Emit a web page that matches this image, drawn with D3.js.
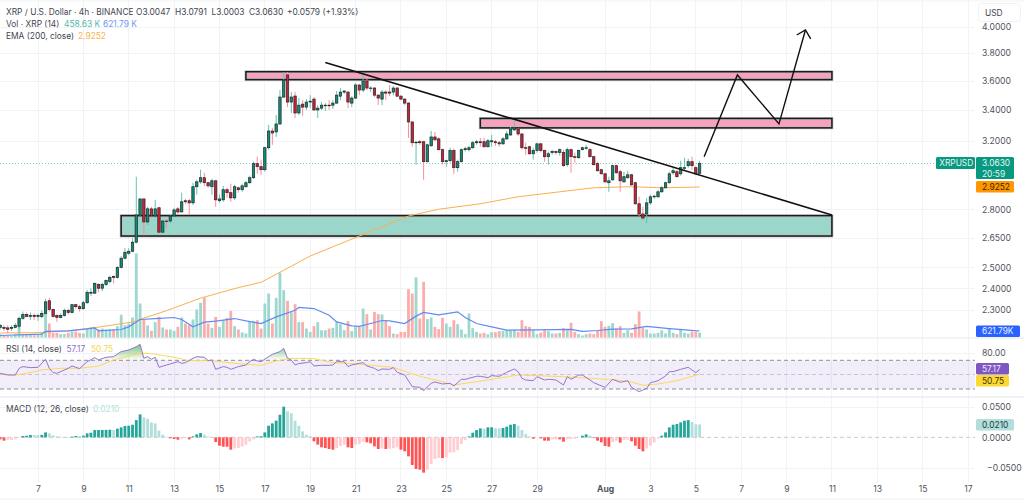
<!DOCTYPE html>
<html>
<head>
<meta charset="utf-8">
<script src="https://d3js.org/d3.v7.min.js"></script>
<style>
html, body { margin: 0; padding: 0; background: #fff; }
svg { display: block; }
text { font-family: Inter, "Noto Sans", sans-serif; font-size: 8.4px; fill: #434651; }
.axis text { font-size: 8.6px; fill: #50535e; }
.axis path, .axis line { display: none; }
</style>
</head>
<body>
<svg id="chart" width="1024" height="501"></svg>
<script>
// 4h candles, first bar is Jul 5 08:00, last is Aug 5 04:00
var opens = [2.223,2.223,2.221,2.219,2.223,2.228,2.263,2.280,2.271,2.276,2.271,2.271,2.285,2.342,2.302,2.276,2.267,2.276,2.298,2.289,2.324,2.315,2.306,2.333,2.377,2.377,2.418,2.400,2.418,2.432,2.456,2.451,2.500,2.545,2.570,2.580,2.626,2.770,2.858,2.732,2.803,2.764,2.809,2.678,2.737,2.737,2.764,2.803,2.786,2.848,2.848,2.836,2.927,2.955,2.979,2.950,2.927,2.961,2.848,2.853,2.910,2.893,2.864,2.921,2.910,2.927,2.950,2.979,3.062,3.044,3.026,3.159,3.264,3.258,3.309,3.488,3.642,3.454,3.495,3.381,3.440,3.420,3.454,3.474,3.401,3.413,3.430,3.433,3.433,3.447,3.494,3.522,3.522,3.447,3.481,3.571,3.536,3.599,3.547,3.550,3.501,3.474,3.522,3.522,3.522,3.550,3.494,3.474,3.447,3.322,3.190,3.196,3.196,3.074,3.171,3.226,3.214,3.147,3.074,3.080,3.141,3.038,3.074,3.147,3.147,3.159,3.190,3.196,3.196,3.165,3.196,3.196,3.190,3.183,3.214,3.239,3.271,3.277,3.245,3.159,3.165,3.122,3.141,3.183,3.141,3.104,3.129,3.135,3.129,3.129,3.056,3.147,3.104,3.098,3.147,3.156,3.147,3.104,3.062,3.026,3.002,2.950,2.967,3.050,3.014,2.955,2.979,2.996,2.950,2.831,2.775,2.775,2.836,2.870,2.870,2.898,2.921,2.950,3.008,3.014,3.002,3.035,3.050,3.074,3.038,3.0047];
var highs = [2.238,2.232,2.232,2.232,2.243,2.271,2.293,2.289,2.289,2.285,2.285,2.298,2.351,2.355,2.306,2.280,2.285,2.306,2.306,2.328,2.328,2.324,2.342,2.392,2.400,2.427,2.423,2.427,2.441,2.460,2.460,2.505,2.555,2.596,2.596,2.647,2.985,2.858,2.858,2.814,2.814,2.853,2.814,2.742,2.748,2.775,2.809,2.814,2.893,2.858,2.858,2.950,2.967,3.026,3.008,2.955,2.973,2.967,2.882,2.932,2.921,2.944,2.938,2.927,2.944,2.961,2.991,3.074,3.104,3.086,3.165,3.303,3.284,3.368,3.536,3.663,3.663,3.522,3.522,3.481,3.467,3.474,3.501,3.488,3.433,3.454,3.447,3.467,3.467,3.529,3.550,3.536,3.529,3.494,3.585,3.578,3.649,3.620,3.564,3.557,3.508,3.536,3.536,3.571,3.564,3.557,3.501,3.481,3.454,3.328,3.202,3.208,3.202,3.183,3.264,3.258,3.226,3.153,3.086,3.159,3.153,3.086,3.153,3.165,3.171,3.202,3.208,3.220,3.220,3.214,3.239,3.208,3.202,3.226,3.264,3.290,3.328,3.284,3.251,3.190,3.171,3.159,3.190,3.190,3.147,3.135,3.147,3.141,3.153,3.147,3.159,3.153,3.129,3.147,3.165,3.177,3.159,3.110,3.074,3.032,3.008,2.985,3.056,3.056,3.026,3.014,3.020,3.002,2.955,2.870,2.814,2.864,2.882,2.882,2.910,2.932,2.955,3.014,3.038,3.026,3.080,3.098,3.092,3.104,3.050,3.0791];
var lows = [2.215,2.208,2.199,2.208,2.219,2.215,2.256,2.267,2.256,2.256,2.252,2.263,2.280,2.293,2.267,2.247,2.263,2.271,2.280,2.285,2.306,2.293,2.302,2.328,2.364,2.373,2.381,2.386,2.410,2.423,2.423,2.446,2.495,2.540,2.560,2.575,2.621,2.764,2.662,2.716,2.753,2.753,2.673,2.675,2.700,2.726,2.758,2.775,2.786,2.831,2.770,2.825,2.882,2.944,2.932,2.921,2.882,2.814,2.836,2.842,2.864,2.842,2.853,2.893,2.898,2.921,2.944,2.973,3.002,2.996,3.014,3.147,3.177,3.226,3.303,3.481,3.420,3.381,3.348,3.368,3.362,3.401,3.413,3.394,3.348,3.401,3.394,3.401,3.407,3.440,3.467,3.508,3.413,3.420,3.474,3.501,3.522,3.536,3.522,3.488,3.433,3.433,3.467,3.494,3.501,3.488,3.467,3.433,3.220,3.165,3.056,3.177,2.967,3.068,3.165,3.202,3.141,3.056,3.044,3.068,3.002,3.014,3.068,3.135,3.135,3.153,3.177,3.165,3.159,3.159,3.165,3.171,3.165,3.177,3.208,3.232,3.264,3.232,3.147,3.116,3.116,3.086,3.129,3.129,3.074,3.056,3.116,3.116,3.110,3.044,3.044,3.008,3.068,3.092,3.141,3.147,3.098,3.050,3.014,2.996,2.950,2.898,2.961,3.002,2.898,2.950,2.973,2.932,2.825,2.764,2.742,2.726,2.825,2.858,2.864,2.893,2.915,2.944,2.996,2.979,2.991,3.020,3.038,3.026,2.996,3.0003];
var closes = [2.232,2.219,2.215,2.223,2.232,2.263,2.280,2.271,2.276,2.271,2.276,2.285,2.337,2.302,2.271,2.267,2.276,2.298,2.289,2.324,2.315,2.306,2.333,2.381,2.381,2.423,2.400,2.418,2.437,2.451,2.451,2.500,2.545,2.575,2.580,2.626,2.770,2.858,2.732,2.803,2.764,2.803,2.678,2.737,2.734,2.764,2.797,2.786,2.842,2.842,2.836,2.927,2.955,2.979,2.950,2.932,2.961,2.853,2.858,2.910,2.893,2.864,2.927,2.910,2.932,2.950,2.979,3.062,3.044,3.026,3.159,3.264,3.251,3.309,3.488,3.606,3.454,3.488,3.381,3.433,3.420,3.454,3.460,3.401,3.413,3.433,3.433,3.430,3.447,3.501,3.522,3.529,3.454,3.481,3.571,3.536,3.599,3.550,3.550,3.501,3.481,3.522,3.515,3.515,3.550,3.494,3.474,3.447,3.322,3.190,3.193,3.190,3.074,3.177,3.226,3.208,3.147,3.074,3.080,3.141,3.038,3.074,3.147,3.153,3.159,3.190,3.196,3.190,3.165,3.202,3.202,3.190,3.183,3.214,3.245,3.277,3.284,3.245,3.159,3.156,3.122,3.141,3.183,3.141,3.104,3.122,3.135,3.129,3.147,3.050,3.147,3.104,3.101,3.141,3.159,3.159,3.104,3.056,3.020,3.002,2.955,2.961,3.050,3.008,2.961,2.985,2.996,2.938,2.831,2.775,2.753,2.836,2.870,2.873,2.898,2.921,2.950,3.002,3.020,2.985,3.038,3.038,3.074,3.050,3.002,3.0630];

// volume in thousands
var volumes = [320,190,190,130,320,1020,320,320,260,220,320,450,2300,1340,450,450,320,320,450,580,580,450,380,900,960,1020,770,860,770,800,800,1090,2180,1180,1340,1920,8060,3260,1730,1150,640,1470,1980,960,770,770,640,1020,1920,1340,1180,1730,2690,3330,3840,1340,930,1980,1020,1660,1890,2560,1090,770,480,380,1570,1600,1660,860,3260,4220,1340,3810,6210,4540,3520,2430,3200,1470,1470,860,540,1090,1470,700,700,860,930,1500,1280,700,1570,610,1020,1020,2780,2240,770,2460,2240,2210,1660,1090,380,320,540,540,4640,4220,5760,1820,5340,1760,1920,1020,800,1890,1340,1020,1660,1280,770,320,2300,900,540,380,450,320,510,510,610,640,700,700,700,540,1660,1090,1020,700,320,480,700,610,380,380,450,900,700,1410,540,320,190,320,380,320,640,1570,1020,1120,1380,860,1090,450,700,450,1280,2500,960,770,380,380,450,700,380,860,450,320,830,450,380,580,580,459];
var volMaBars = [0,11,12,18,23,25,26,32,34,37,41,46,48,51,54,57,62,65,69,73,78,79,83,87,89,93,95,98,101,103,107,110,112,116,121,123,126,130,134,142,151,154,158,162,167,171,177,182,185];
var volMa = [190,320,580,640,830,930,640,770,1020,1730,1820,1920,1730,1020,1470,1570,1820,1600,1340,1980,2620,2880,2780,2140,1500,1120,1060,1340,1630,1600,1340,2050,2400,2180,2460,1920,1340,1020,700,740,770,580,670,800,830,1060,860,700,621.79];

var emaBars = [0,9,18,26,35,38,44,53,63,69,74,82,95,108,116,127,137,148,157,167,175,185];
var ema = [2.199,2.2,2.208,2.224,2.247,2.264,2.297,2.354,2.403,2.428,2.476,2.556,2.658,2.764,2.801,2.831,2.870,2.898,2.921,2.927,2.921,2.9252];

var rsiBars = [0,2,4,5,6,8,10,11,12,13,14,15,17,18,19,21,23,25,26,28,30,32,34,36,37,38,39,40,41,42,44,45,47,48,49,51,52,54,55,56,57,59,60,61,63,65,66,67,68,69,71,72,74,75,76,77,78,79,81,82,83,85,87,88,89,91,92,93,95,96,97,99,100,101,103,104,105,107,109,111,112,114,115,117,119,120,122,123,126,127,129,130,132,134,136,137,138,139,141,142,144,145,147,149,150,151,153,154,156,157,160,162,164,166,167,169,171,172,174,176,177,178,180,182,184,185];
var rsi = [51.9,49.5,49.5,58.8,61.2,59.8,60.2,65.8,71.4,58.8,52.8,51.9,56.5,58.8,62.1,58.4,68.1,73.7,70.5,74.2,75.1,82.1,84.4,89,92.3,72.8,75.1,71.4,74.2,60.2,63.5,64.9,68.1,65.8,66.7,72.8,75.1,74.2,69.5,70.5,57.4,61.2,60.2,57.4,61.2,63.5,68.1,71.4,69.1,68.1,75.1,78.4,82.1,86.7,72.8,70.5,63.5,65.5,66.7,68.1,62.1,63,63,63.5,68.1,68.1,61.2,63.5,65.8,66.7,62.1,58.8,55.6,57.9,57.4,59.8,53.3,49.5,33.3,32.3,27.7,37.9,39.8,37,37.9,34.2,43.5,43.5,47.7,47.7,45.8,48.6,47.7,53.3,57.9,54.2,44.9,42.6,41.6,47.2,42.6,43.5,42.6,35.6,47.2,43.5,49.5,49.5,42.6,38.8,32.3,43.5,39.3,41.6,32.3,26.3,30.9,38.8,41.6,48.1,54.2,54.2,57.4,60.2,52.8,57.17];
var rsiMaBars = [0,4,7,11,16,21,26,30,37,39,41,46,50,56,62,69,73,77,83,88,95,98,104,108,112,116,120,126,131,137,142,149,156,163,167,170,174,179,185];
var rsiMa = [51,49.5,51.9,56.5,58.8,58.8,62,70.5,79.7,79.7,78.4,74.2,69.5,69.5,65.8,63,69.1,72.8,72.3,66.7,64.5,63,60.2,52.8,46.3,41.6,35.6,40.2,44.4,49.5,48.6,47.2,44.9,42.6,39.8,35.2,37,41.6,50.75];

var macdHist = [-.0033,-.0054,-.0043,-.0043,-.0033,-.0011,.0022,.0027,.0038,.0038,.0038,.0040,.0081,.0065,.0033,.0016,.0011,.0005,.0005,.0011,.0022,.0022,.0027,.0065,.0076,.0119,.0120,.0121,.0122,.0125,.0119,.0141,.0163,.0185,.0190,.0206,.0282,.0375,.0326,.0304,.0244,.0228,.0109,.0043,.0011,-.0016,-.0027,-.0038,-.0022,-.0011,-.0033,.0016,.0049,.0071,.0043,.0016,.0005,-.0076,-.0136,-.0152,-.0153,-.0201,-.0179,-.0174,-.0152,-.0119,-.0065,-.0033,.0016,.0017,.0081,.0190,.0228,.0272,.0369,.0500,.0424,.0391,.0272,.0190,.0098,.0043,.0016,-.0065,-.0119,-.0163,-.0174,-.0190,-.0201,-.0174,-.0141,-.0119,-.0163,-.0174,-.0119,-.0109,-.0071,-.0081,-.0098,-.0147,-.0190,-.0179,-.0190,-.0185,-.0179,-.0163,-.0201,-.0228,-.0310,-.0451,-.0516,-.0527,-.0576,-.0527,-.0434,-.0353,-.0337,-.0338,-.0326,-.0250,-.0244,-.0206,-.0109,-.0043,.0016,.0076,.0119,.0147,.0141,.0163,.0164,.0147,.0146,.0152,.0174,.0206,.0217,.0190,.0119,.0054,.0016,-.0022,0,-.0016,-.0054,-.0055,-.0033,-.0032,-.0033,-.0071,-.0033,-.0027,-.0022,0,.0027,.0049,.0027,-.0011,-.0054,-.0081,-.0141,-.0152,-.0076,-.0054,-.0087,-.0043,-.0038,-.0065,-.0136,-.0190,-.0228,-.0179,-.0136,-.0081,-.0016,.0027,.0081,.0163,.0206,.0217,.0244,.0272,.0282,.0250,.0212,.0210];

var dateTickBars = [10,22,34,46,58,70,82,94,106,118,130,142,160,172,184,196,208,220,232,244,256];
var dateLabels = ['7','9','11','13','15','17','19','21','23','25','27','29','Aug','3','5','7','9','11','13','15','17'];
var priceTicks = [4.0,3.8,3.6,3.4,3.2,2.8,2.65,2.5,2.4,2.3];
var rsiTicks = [80];
var macdTicks = [0.05,0,-0.05];

// drawn zones and lines, [bar, price]
var topZone = {bars: [65,220], prices: [3.665,3.609]};
var midZone = {bars: [127,220], prices: [3.345,3.284]};
var lowZone = {bars: [32,220], prices: [2.766,2.658]};
var trendBars = [86,220];
var trendPrices = [3.732,2.770];
var pathBars = [186.2,195,206,213];
var pathPrices = [3.104,3.642,3.31,3.977];
var headBars = [210.7,213,214.4];
var headPrices = [3.938,3.977,3.909];

var W = 1024, H = 501, plotRight = 975;

var svg = d3.select('#chart');

var x = d3.scaleLinear().domain([10,256]).range([38,968]);
var y = d3.scaleLog().domain([4,2.3]).range([27,310]);
var yVol = d3.scaleLinear().domain([0,8060]).range([337.5,253.5]);
var yRsi = d3.scaleLinear().domain([30,70]).range([389,360.3]);
var yMacd = d3.scaleLinear().domain([-0.05,0.05]).range([468,406.7]);

var bars = d3.range(closes.length);

// grid
var grid = svg.append('g').attr('stroke', '#f2f3f6').attr('stroke-width', 1).attr('shape-rendering', 'crispEdges');
grid.selectAll('.v').data(dateTickBars).enter().append('line')
    .attr('x1', function(d) { return x(d); }).attr('x2', function(d) { return x(d); })
    .attr('y1', 0).attr('y2', 483);
function hGrid(vals, scale) {
    grid.selectAll(null).data(vals).enter().append('line')
        .attr('x1', 0).attr('x2', plotRight)
        .attr('y1', function(d) { return Math.round(scale(d)); })
        .attr('y2', function(d) { return Math.round(scale(d)); });
}
hGrid(priceTicks, y);
hGrid(rsiTicks, yRsi);
hGrid([0.05,-0.05], yMacd);

// pane separators
var seps = [[338,'#e6e8ec'],[397,'#e0e3e8'],[499,'#eceef1'],[1,'#f0f2f5']];
svg.append('g').selectAll('line').data(seps).enter().append('line')
    .attr('x1', 0).attr('x2', W)
    .attr('y1', function(d) { return d[0]; }).attr('y2', function(d) { return d[0]; })
    .attr('stroke', function(d) { return d[1]; });

// volume
svg.append('g').selectAll('rect').data(bars).enter().append('rect')
    .attr('x', function(i) { return x(i) - 1.4; })
    .attr('width', 2.8)
    .attr('y', function(i) { return yVol(volumes[i]); })
    .attr('height', function(i) { return yVol(0) - yVol(volumes[i]); })
    .attr('fill', function(i) { return closes[i] >= opens[i] ? '#9dd7d0' : '#f9aeab'; });

function linePath(xs, ys, yScale) {
    return d3.line()
        .x(function(d) { return x(d); })
        .y(function(d, i) { return yScale(ys[i]); })(xs);
}

// zones
[[topZone,'#f7a1bd'],[midZone,'#f7a1bd'],[lowZone,'#9bd6ca']].forEach(function(z) {
    var g = svg.append('g');
    var zx = x(z[0].bars[0]), zw = x(z[0].bars[1]) - zx;
    var zy = y(z[0].prices[0]), zh = y(z[0].prices[1]) - zy;
    g.append('rect').attr('x', zx).attr('y', zy).attr('width', zw).attr('height', zh)
        .attr('fill', z[1]).attr('stroke', '#bdbdbd').attr('stroke-width', 2.8);
    g.append('rect').attr('x', zx).attr('y', zy).attr('width', zw).attr('height', zh)
        .attr('fill', 'none').attr('stroke', '#1c1c1c').attr('stroke-width', 1.5);
});

// EMA
svg.append('path').attr('d', linePath(emaBars, ema, y))
    .attr('fill', 'none').attr('stroke', '#fbb04c').attr('stroke-width', 1);

// volume MA
svg.append('path').attr('d', linePath(volMaBars, volMa, yVol))
    .attr('fill', 'none').attr('stroke', '#5f8bf5').attr('stroke-width', 1.2);

// last price dotted
svg.append('line').attr('x1', 0).attr('x2', 936)
    .attr('y1', y(closes[closes.length - 1])).attr('y2', y(closes[closes.length - 1]))
    .attr('stroke', '#7ccbbb').attr('stroke-width', 1).attr('stroke-dasharray', '1 2');

// candles
var candle = svg.append('g').selectAll('g').data(bars).enter().append('g');
candle.append('line')
    .attr('x1', function(i) { return x(i); }).attr('x2', function(i) { return x(i); })
    .attr('y1', function(i) { return y(highs[i]); }).attr('y2', function(i) { return y(lows[i]); })
    .attr('stroke', function(i) { return closes[i] >= opens[i] ? '#62c2af' : '#f68e9e'; })
    .attr('stroke-width', 1);
candle.append('rect')
    .attr('x', function(i) { return x(i) - 1.2; })
    .attr('width', 2.4)
    .attr('y', function(i) { return y(Math.max(opens[i], closes[i])); })
    .attr('height', function(i) { return Math.max(0.6, Math.abs(y(opens[i]) - y(closes[i]))); })
    .attr('fill', function(i) { return closes[i] >= opens[i] ? '#0a8f78' : '#d11f3a'; })
    .attr('stroke', '#262626').attr('stroke-width', 0.7);

// trend line and arrows
svg.append('path').attr('d', linePath(trendBars, trendPrices, y))
    .attr('fill', 'none').attr('stroke', '#111').attr('stroke-width', 1.6);
svg.append('path').attr('d', linePath(pathBars, pathPrices, y))
    .attr('fill', 'none').attr('stroke', '#111').attr('stroke-width', 1.4);
svg.append('path').attr('d', linePath(headBars, headPrices, y))
    .attr('fill', 'none').attr('stroke', '#111').attr('stroke-width', 1.4);

// RSI pane
svg.append('rect').attr('x', 0).attr('width', plotRight)
    .attr('y', yRsi(70)).attr('height', yRsi(30) - yRsi(70))
    .attr('fill', '#7e57c2').attr('opacity', 0.1);
[70,50,30].forEach(function(v) {
    svg.append('line').attr('x1', 0).attr('x2', plotRight)
        .attr('y1', yRsi(v)).attr('y2', yRsi(v))
        .attr('stroke', '#8f8f96').attr('stroke-width', v === 50 ? 0.7 : 1)
        .attr('stroke-dasharray', '4 3').attr('opacity', v === 50 ? 0.7 : 1);
});
var defs = svg.append('defs');
var grad = defs.append('linearGradient').attr('id', 'obFill').attr('gradientUnits', 'userSpaceOnUse')
    .attr('x1', 0).attr('x2', 0).attr('y1', yRsi(92)).attr('y2', yRsi(70));
grad.append('stop').attr('offset', 0).attr('stop-color', '#4caf50').attr('stop-opacity', 0.75);
grad.append('stop').attr('offset', 1).attr('stop-color', '#4caf50').attr('stop-opacity', 0);
defs.append('clipPath').attr('id', 'obClip').append('rect')
    .attr('x', 0).attr('y', 340).attr('width', plotRight).attr('height', yRsi(70) - 340);
svg.append('path')
    .attr('d', d3.area()
        .x(function(d) { return x(d); })
        .y0(yRsi(70))
        .y1(function(d, i) { return yRsi(rsi[i]); })(rsiBars))
    .attr('fill', 'url(#obFill)').attr('clip-path', 'url(#obClip)');
svg.append('path').attr('d', linePath(rsiMaBars, rsiMa, yRsi))
    .attr('fill', 'none').attr('stroke', '#fdd85d').attr('stroke-width', 1);
svg.append('path').attr('d', linePath(rsiBars, rsi, yRsi))
    .attr('fill', 'none').attr('stroke', '#9575cd').attr('stroke-width', 1);

// MACD pane
svg.append('line').attr('x1', 0).attr('x2', plotRight)
    .attr('y1', yMacd(0)).attr('y2', yMacd(0))
    .attr('stroke', '#c9c9ce').attr('stroke-width', 1).attr('stroke-dasharray', '4 3');
svg.append('g').selectAll('rect').data(bars).enter().append('rect')
    .attr('x', function(i) { return x(i) - 1.4; })
    .attr('width', 2.8)
    .attr('y', function(i) { return yMacd(Math.max(0, macdHist[i])); })
    .attr('height', function(i) { return Math.abs(yMacd(macdHist[i]) - yMacd(0)); })
    .attr('fill', function(i) {
        var v = macdHist[i], prev = i > 0 ? macdHist[i - 1] : 0;
        if (v >= 0) return v > prev ? '#26a69a' : '#b2dfdb';
        return v < prev ? '#ff5252' : '#ffcdd2';
    });

// axes
var tickFormat = d3.format('.4f');
svg.append('g').attr('class', 'axis').attr('transform', 'translate(982,0)')
    .call(d3.axisRight(y).tickValues(priceTicks).tickSize(0).tickPadding(0).tickFormat(tickFormat));
svg.append('g').attr('class', 'axis').attr('transform', 'translate(982,0)')
    .call(d3.axisRight(yRsi).tickValues(rsiTicks).tickSize(0).tickPadding(0).tickFormat(d3.format('.2f')));
svg.append('g').attr('class', 'axis').attr('transform', 'translate(982,0)')
    .call(d3.axisRight(yMacd).tickValues(macdTicks.slice(0,2)).tickSize(0).tickPadding(0).tickFormat(tickFormat));
svg.append('g').attr('class', 'axis').attr('transform', 'translate(987,0)')
    .call(d3.axisLeft(yMacd).tickValues([-0.05]).tickSize(0).tickPadding(0).tickFormat(tickFormat))
    .selectAll('text').attr('text-anchor', 'start');
svg.append('g').attr('class', 'axis').attr('transform', 'translate(0,482)')
    .call(d3.axisBottom(x).tickValues(dateTickBars).tickSize(0).tickPadding(4)
        .tickFormat(function(d, i) { return dateLabels[i]; }))
    .selectAll('text')
    .attr('font-weight', function(d, i) { return dateLabels[i] === 'Aug' ? 700 : 400; });

// USD box
svg.append('rect').attr('x', 978.5).attr('y', 3.5).attr('width', 42).attr('height', 18).attr('rx', 3)
    .attr('fill', '#fff').attr('stroke', '#f0f2f5');
svg.append('text').attr('x', 985).attr('y', 15.5).text('USD');

// price labels on the scale
function tag(bx, by, bw2, bh, fill, lines, color, pad) {
    svg.append('rect').attr('x', bx).attr('y', by).attr('width', bw2).attr('height', bh).attr('rx', 1.5).attr('fill', fill);
    lines.forEach(function(t, i) {
        svg.append('text').attr('x', bx + pad).attr('y', by + 8.6 + i * 11).style('fill', color).text(t);
    });
}
tag(936, 157, 39, 12, '#089981', ['XRPUSD'], '#e6f5f2', 3.2);
tag(976, 157, 38, 22, '#089981', ['3.0630','20:59'], '#e6f5f2', 6);
tag(976, 181, 38, 11.5, '#ff9800', ['2.9252'], '#3a2500', 6);
tag(976, 325.5, 44, 11.5, '#2962ff', ['621.79K'], '#e8eeff', 6);
tag(976, 363, 33, 11.5, '#7e57c2', ['57.17'], '#f0ebfa', 6);
tag(976, 375, 33, 11.5, '#fdd835', ['50.75'], '#3b3200', 6);
tag(976, 419, 38, 11.5, '#b2dfdb', ['0.0210'], '#1e3d3a', 6);

// legends
function legend(items, ly) {
    items.forEach(function(it) {
        svg.append('text').attr('x', it[0]).attr('y', ly).style('fill', it[2] || '#434651').text(it[1]);
    });
}
legend([[6,'XRP / U.S. Dollar · 4h · BINANCE'],[136,'O3.0047'],[175,'H3.0791'],[211.5,'L3.0003'],[249,'C3.0630'],[287,'+0.0579 (+1.93%)']], 15);
legend([[6,'Vol · XRP (14)'],[64,'458.63 K','#52b8aa'],[103,'621.79 K','#6f97f7']], 27);
legend([[6,'EMA (200, close)'],[78,'2.9252','#fbb04c']], 39);
legend([[6,'RSI (14, close)'],[66.5,'57.17','#8e70cb'],[91,'50.75','#f6d65a']], 352);
legend([[6,'MACD (12, 26, close)'],[93,'0.0210','#b2dfdb']], 412);
</script>
</body>
</html>
